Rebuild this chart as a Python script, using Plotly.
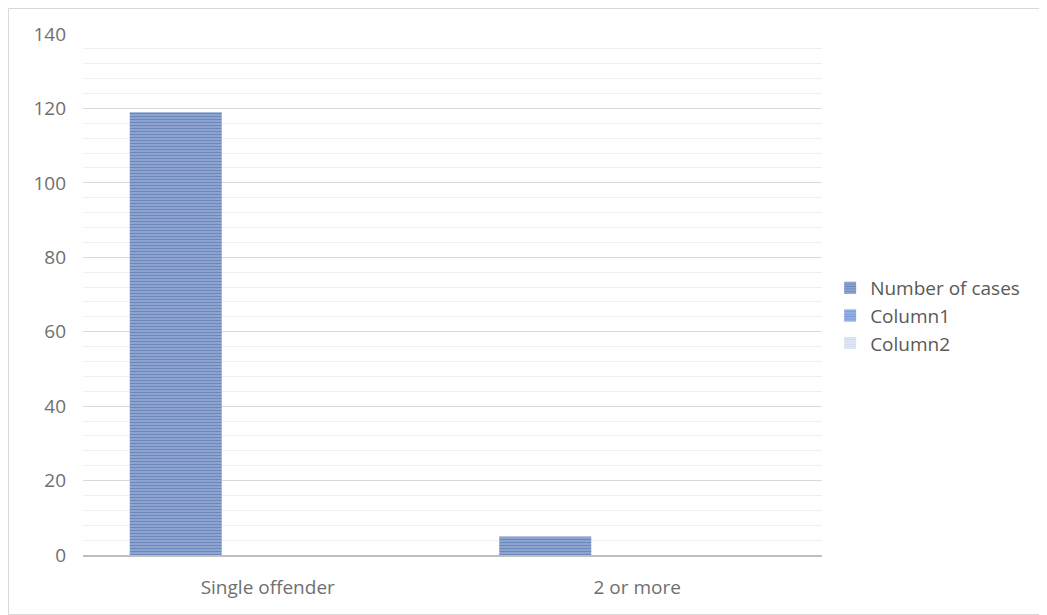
import plotly.graph_objects as go

categories = ["Single offender", "2 or more"]
number_of_cases = [119, 5]
column1 = [None, None]
column2 = [None, None]
y_ticks = [0, 20, 40, 60, 80, 100, 120, 140]

fig = go.Figure()

def add(name, vals, fg, bg):
    fig.add_trace(go.Bar(
        name=name, x=categories, y=vals,
        marker=dict(color=bg, line=dict(width=0),
                    pattern=dict(shape="-", fgcolor=fg, bgcolor=bg,
                                 size=3, solidity=0.6, fillmode="overlay")),
    ))

add("Number of cases", number_of_cases, "#35559a", "#a3b8de")
add("Column1", column1, "#4470c2", "#a9c1ec")
add("Column2", column2, "#b6c6e4", "#eaeff8")

W, H = 1039, 607
L, R, T, B = 75, 225, 26, 60
pw, ph = W - L - R, H - T - B

fig.update_layout(
    width=W, height=H,
    margin=dict(l=L, r=R, t=T, b=B),
    paper_bgcolor="white", plot_bgcolor="white",
    barmode="group", bargap=0.253, bargroupgap=0,
    font=dict(family="Open Sans, Calibri, sans-serif", color="#6f6f6f", size=19),
    showlegend=True,
    legend=dict(x=1.011, y=0.459, yanchor="middle", xanchor="left",
                font=dict(size=19, color="#595959"),
                itemwidth=30, tracegroupgap=0, bgcolor="rgba(0,0,0,0)"),
    xaxis=dict(showgrid=False, showline=True, linecolor="#bfbfbf", linewidth=2,
               ticks="", tickfont=dict(size=19, color="#6f6f6f"),
               ticklabelstandoff=14),
    yaxis=dict(range=[0, 140], tickvals=y_ticks, showline=False,
               gridcolor="#d9d9d9", gridwidth=1, zeroline=False,
               tickfont=dict(size=19, color="#6f6f6f"),
               ticklabelstandoff=16,
               minor=dict(dtick=4, showgrid=True, gridcolor="#efefef", gridwidth=1)),
    shapes=[dict(type="rect", xref="paper", yref="paper",
                 x0=(0.5 - L) / pw, x1=(W - 0.5 - L) / pw,
                 y0=-(B - 0.5) / ph, y1=1 + (T - 0.5) / ph,
                 line=dict(color="#d9d9d9", width=1), layer="below")],
)

fig.write_html("out.html")
